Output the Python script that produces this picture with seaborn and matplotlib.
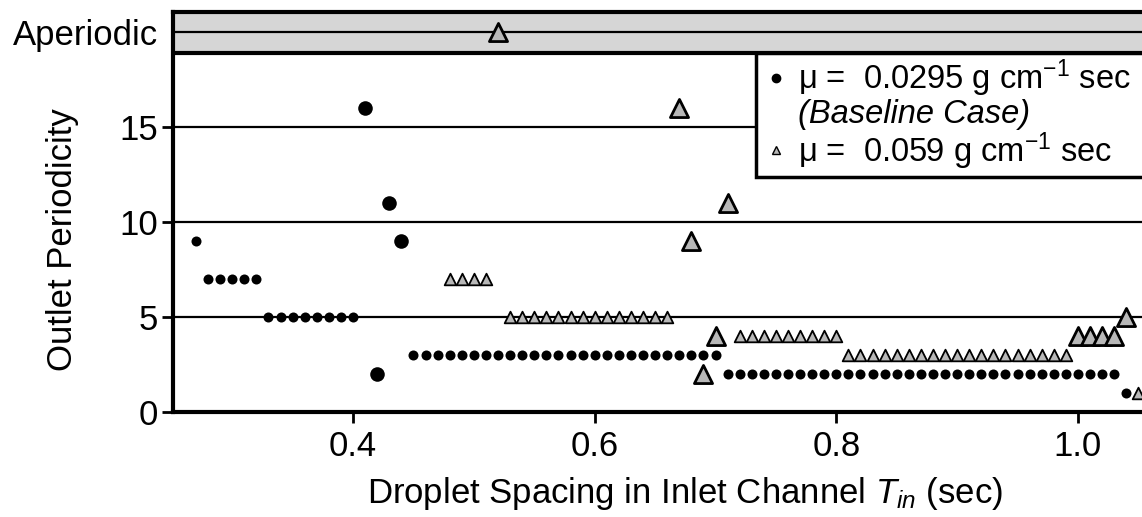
import matplotlib
matplotlib.use('Agg')
import numpy as np
import pandas as pd
import matplotlib.pyplot as plt
import seaborn as sns
from matplotlib.lines import Line2D

sns.set_style('white')
plt.rcParams['font.family'] = ['Liberation Sans', 'DejaVu Sans']
plt.rcParams['mathtext.fontset'] = 'custom'
plt.rcParams['mathtext.rm'] = 'Liberation Sans'
plt.rcParams['mathtext.it'] = 'Liberation Sans:italic'
plt.rcParams['text.color'] = 'k'
plt.rcParams['axes.labelcolor'] = 'k'

# baseline case (mu = 0.0295), regular markers
base_x = [0.27,
          0.28, 0.29, 0.30, 0.31, 0.32,
          0.33, 0.34, 0.35, 0.36, 0.37, 0.38, 0.39, 0.40,
          0.45, 0.46, 0.47, 0.48, 0.49, 0.50, 0.51, 0.52, 0.53, 0.54, 0.55, 0.56, 0.57,
          0.58, 0.59, 0.60, 0.61, 0.62, 0.63, 0.64, 0.65, 0.66, 0.67, 0.68, 0.69, 0.70,
          0.71, 0.72, 0.73, 0.74, 0.75, 0.76, 0.77, 0.78, 0.79, 0.80, 0.81, 0.82, 0.83,
          0.84, 0.85, 0.86, 0.87, 0.88, 0.89, 0.90, 0.91, 0.92, 0.93, 0.94, 0.95, 0.96,
          0.97, 0.98, 0.99, 1.00, 1.01, 1.02, 1.03,
          1.04]
base_y = [9,
          7, 7, 7, 7, 7,
          5, 5, 5, 5, 5, 5, 5, 5,
          3, 3, 3, 3, 3, 3, 3, 3, 3, 3, 3, 3, 3,
          3, 3, 3, 3, 3, 3, 3, 3, 3, 3, 3, 3, 3,
          2, 2, 2, 2, 2, 2, 2, 2, 2, 2, 2, 2, 2,
          2, 2, 2, 2, 2, 2, 2, 2, 2, 2, 2, 2, 2,
          2, 2, 2, 2, 2, 2, 2,
          1]
# baseline case, large markers
base_big_x = [0.41, 0.42, 0.43, 0.44]
base_big_y = [16, 2, 11, 9]

# mu = 0.059, regular markers
visc_x = [0.48, 0.49, 0.50, 0.51,
          0.53, 0.54, 0.55, 0.56, 0.57, 0.58, 0.59, 0.60, 0.61, 0.62, 0.63, 0.64, 0.65, 0.66,
          0.72, 0.73, 0.74, 0.75, 0.76, 0.77, 0.78, 0.79, 0.80,
          0.81, 0.82, 0.83, 0.84, 0.85, 0.86, 0.87, 0.88, 0.89, 0.90, 0.91, 0.92, 0.93,
          0.94, 0.95, 0.96, 0.97, 0.98, 0.99,
          1.05]
visc_y = [7, 7, 7, 7,
          5, 5, 5, 5, 5, 5, 5, 5, 5, 5, 5, 5, 5, 5,
          4, 4, 4, 4, 4, 4, 4, 4, 4,
          3, 3, 3, 3, 3, 3, 3, 3, 3, 3, 3, 3, 3,
          3, 3, 3, 3, 3, 3,
          1]
# mu = 0.059, large markers (20 = aperiodic)
visc_big_x = [0.52, 0.67, 0.68, 0.69, 0.70, 0.71, 1.00, 1.01, 1.02, 1.03, 1.04]
visc_big_y = [20, 16, 9, 2, 4, 11, 4, 4, 4, 4, 5]

ytick_vals = [0, 5, 10, 15, 20]
ytick_labels = ['0', '5', '10', '15', 'Aperiodic']
xtick_vals = [0.4, 0.6, 0.8, 1.0]
xtick_labels = ['0.4', '0.6', '0.8', '1.0']

base = pd.DataFrame({'spacing': base_x, 'period': base_y})
base_big = pd.DataFrame({'spacing': base_big_x, 'period': base_big_y})
visc = pd.DataFrame({'spacing': visc_x, 'period': visc_y})
visc_big = pd.DataFrame({'spacing': visc_big_x, 'period': visc_big_y})

FS = 25
fig = plt.figure(figsize=(11.42, 5.17), dpi=100)
ax = fig.add_axes([0.1515, 0.2031, 0.8485, 0.7737])

# aperiodic band and reference lines
ax.axhspan(18.9, 21.05, color='#d6d6d6', zorder=0)
ax.axhline(18.9, color='k', lw=3, zorder=1)
for yv in [5, 10, 15, 20]:
    ax.axhline(yv, color='k', lw=1.6, zorder=1)

sns.scatterplot(data=base, x='spacing', y='period', ax=ax, marker='o', s=52,
                color='k', edgecolor='k', linewidth=0, zorder=3, clip_on=False)
sns.scatterplot(data=base_big, x='spacing', y='period', ax=ax, marker='o', s=110,
                color='k', edgecolor='k', linewidth=0, zorder=3, clip_on=False)
sns.scatterplot(data=visc, x='spacing', y='period', ax=ax, marker='^', s=70,
                color='#b8b8b8', edgecolor='k', linewidth=1.3, zorder=3, clip_on=False)
sns.scatterplot(data=visc_big, x='spacing', y='period', ax=ax, marker='^', s=170,
                color='#b8b8b8', edgecolor='k', linewidth=2, zorder=3, clip_on=False)

ax.set_xlim(0.251, 1.053)
ax.set_ylim(0, 21.05)
ax.set_xticks(xtick_vals, xtick_labels)
ax.set_yticks(ytick_vals, ytick_labels)
ax.tick_params(axis='both', direction='out', bottom=True, left=True, width=2,
               labelsize=FS, colors='k')
ax.tick_params(axis='x', length=8, pad=5)
ax.tick_params(axis='y', length=8, pad=3)
ax.yaxis.get_major_ticks()[-1].tick1line.set_visible(False)

for side in ['left', 'bottom', 'top']:
    ax.spines[side].set_linewidth(3)
    ax.spines[side].set_color('k')
ax.spines['right'].set_visible(False)

ax.set_xlabel(r'Droplet Spacing in Inlet Channel $T_{in}$ (sec)', fontsize=FS, color='k')
ax.xaxis.set_label_coords(0.528, -0.158)
ax.xaxis.label.set_verticalalignment('top')
ax.set_ylabel('Outlet Periodicity', fontsize=FS, color='k')
ax.yaxis.set_label_coords(-0.097, 0.43)

handles = [Line2D([], [], ls='none', marker='o', ms=6, color='k'),
           Line2D([], [], ls='none', marker=None),
           Line2D([], [], ls='none', marker='^', ms=6, mfc='#b8b8b8', mec='k', mew=1)]
labels = [r'μ =  0.0295 g cm$^{-1}$ sec', '(Baseline Case)', r'μ =  0.059 g cm$^{-1}$ sec']
# legend box runs past the right edge of the figure, as in the original
leg = ax.legend(handles, labels, loc='upper left', mode='expand',
                bbox_to_anchor=(0.6017, 18.9 / 21.05, 0.43, 0.0),
                borderaxespad=0, frameon=True, fancybox=False, edgecolor='k', framealpha=1,
                handlelength=0.9, handletextpad=0.25, labelspacing=0.0, borderpad=0.15,
                fontsize=23.5, labelcolor='k')
leg.get_frame().set_linewidth(2.5)
leg.get_texts()[1].set_style('italic')
leg.set_zorder(5)

fig.savefig('out.png', dpi=100)
